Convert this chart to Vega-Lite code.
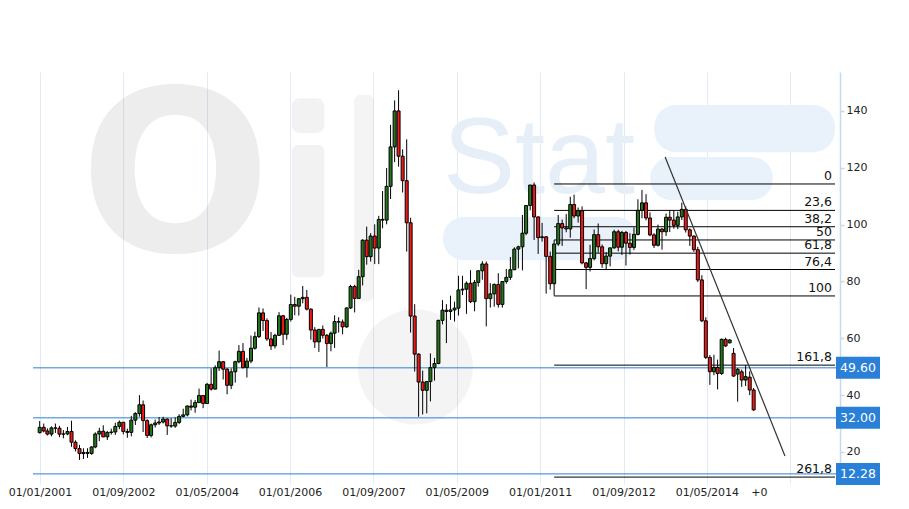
{
  "$schema": "https://vega.github.io/schema/vega-lite/v6.json",
  "width": 807,
  "height": 409,
  "autosize": {"type": "none"},
  "padding": {"left": 33, "top": 72, "right": 69, "bottom": 28},
  "background": "#ffffff",
  "config": {"view": {"stroke": null}, "font": "DejaVu Sans"},
  "datasets": {
    "candles": [
      {"d":"2001-01-01","o":26.80,"h":30.9,"l":26.5,"c":28.66},
      {"d":"2001-02-01","o":28.66,"h":30.0,"l":26.9,"c":27.39},
      {"d":"2001-03-01","o":27.39,"h":28.3,"l":25.8,"c":26.29},
      {"d":"2001-04-01","o":26.29,"h":29.0,"l":25.5,"c":28.46},
      {"d":"2001-05-01","o":28.46,"h":30.0,"l":26.7,"c":28.37},
      {"d":"2001-06-01","o":28.37,"h":29.2,"l":25.2,"c":26.25},
      {"d":"2001-07-01","o":26.25,"h":27.7,"l":24.8,"c":26.35},
      {"d":"2001-08-01","o":26.35,"h":28.8,"l":25.9,"c":27.20},
      {"d":"2001-09-01","o":27.20,"h":31.0,"l":21.8,"c":23.43},
      {"d":"2001-10-01","o":23.43,"h":24.1,"l":20.2,"c":21.18},
      {"d":"2001-11-01","o":21.18,"h":22.5,"l":17.2,"c":19.44},
      {"d":"2001-12-01","o":19.44,"h":21.3,"l":17.5,"c":19.84},
      {"d":"2002-01-01","o":19.84,"h":21.3,"l":17.9,"c":19.48},
      {"d":"2002-02-01","o":19.48,"h":22.0,"l":19.0,"c":21.74},
      {"d":"2002-03-01","o":21.74,"h":26.9,"l":21.3,"c":26.31},
      {"d":"2002-04-01","o":26.31,"h":28.5,"l":23.8,"c":27.29},
      {"d":"2002-05-01","o":27.29,"h":29.4,"l":25.2,"c":25.31},
      {"d":"2002-06-01","o":25.31,"h":27.4,"l":24.2,"c":26.86},
      {"d":"2002-07-01","o":26.86,"h":28.2,"l":26.1,"c":27.02},
      {"d":"2002-08-01","o":27.02,"h":30.3,"l":26.0,"c":28.98},
      {"d":"2002-09-01","o":28.98,"h":31.1,"l":28.0,"c":30.45},
      {"d":"2002-10-01","o":30.45,"h":30.5,"l":26.2,"c":27.22},
      {"d":"2002-11-01","o":27.22,"h":28.2,"l":25.0,"c":26.89},
      {"d":"2002-12-01","o":26.89,"h":32.7,"l":25.5,"c":31.20},
      {"d":"2003-01-01","o":31.20,"h":34.0,"l":29.5,"c":33.51},
      {"d":"2003-02-01","o":33.51,"h":39.99,"l":32.4,"c":36.60},
      {"d":"2003-03-01","o":36.60,"h":38.1,"l":27.0,"c":31.04},
      {"d":"2003-04-01","o":31.04,"h":31.5,"l":24.9,"c":25.80},
      {"d":"2003-05-01","o":25.80,"h":30.0,"l":25.1,"c":29.56},
      {"d":"2003-06-01","o":29.56,"h":31.4,"l":28.6,"c":30.19},
      {"d":"2003-07-01","o":30.19,"h":32.3,"l":29.5,"c":30.54},
      {"d":"2003-08-01","o":30.54,"h":32.4,"l":30.0,"c":31.57},
      {"d":"2003-09-01","o":31.57,"h":31.8,"l":26.0,"c":29.20},
      {"d":"2003-10-01","o":29.20,"h":31.9,"l":28.5,"c":29.11},
      {"d":"2003-11-01","o":29.11,"h":32.2,"l":28.5,"c":30.41},
      {"d":"2003-12-01","o":30.41,"h":33.3,"l":29.8,"c":32.52},
      {"d":"2004-01-01","o":32.52,"h":35.2,"l":32.2,"c":33.05},
      {"d":"2004-02-01","o":33.05,"h":36.4,"l":32.5,"c":36.16},
      {"d":"2004-03-01","o":36.16,"h":38.4,"l":34.6,"c":35.76},
      {"d":"2004-04-01","o":35.76,"h":38.3,"l":33.8,"c":37.38},
      {"d":"2004-05-01","o":37.38,"h":42.3,"l":37.2,"c":39.88},
      {"d":"2004-06-01","o":39.88,"h":40.0,"l":35.4,"c":37.05},
      {"d":"2004-07-01","o":37.05,"h":44.3,"l":37.0,"c":43.80},
      {"d":"2004-08-01","o":43.80,"h":49.4,"l":41.6,"c":42.12},
      {"d":"2004-09-01","o":42.12,"h":50.5,"l":42.0,"c":49.64},
      {"d":"2004-10-01","o":49.64,"h":55.67,"l":48.5,"c":51.76},
      {"d":"2004-11-01","o":51.76,"h":52.0,"l":45.5,"c":49.13},
      {"d":"2004-12-01","o":49.13,"h":49.5,"l":40.3,"c":43.45},
      {"d":"2005-01-01","o":43.45,"h":49.4,"l":42.1,"c":48.20},
      {"d":"2005-02-01","o":48.20,"h":52.1,"l":44.4,"c":51.75},
      {"d":"2005-03-01","o":51.75,"h":57.6,"l":51.2,"c":55.40},
      {"d":"2005-04-01","o":55.40,"h":58.3,"l":49.3,"c":49.72},
      {"d":"2005-05-01","o":49.72,"h":53.1,"l":46.2,"c":51.97},
      {"d":"2005-06-01","o":51.97,"h":60.95,"l":51.2,"c":56.50},
      {"d":"2005-07-01","o":56.50,"h":62.3,"l":56.0,"c":60.57},
      {"d":"2005-08-01","o":60.57,"h":70.85,"l":60.1,"c":68.94},
      {"d":"2005-09-01","o":68.94,"h":70.5,"l":62.6,"c":66.24},
      {"d":"2005-10-01","o":66.24,"h":67.0,"l":59.1,"c":59.76},
      {"d":"2005-11-01","o":59.76,"h":62.2,"l":55.9,"c":57.32},
      {"d":"2005-12-01","o":57.32,"h":61.6,"l":56.4,"c":61.04},
      {"d":"2006-01-01","o":61.04,"h":69.2,"l":60.8,"c":67.92},
      {"d":"2006-02-01","o":67.92,"h":68.2,"l":57.6,"c":61.41},
      {"d":"2006-03-01","o":61.41,"h":67.2,"l":59.5,"c":66.63},
      {"d":"2006-04-01","o":66.63,"h":75.35,"l":65.9,"c":71.88},
      {"d":"2006-05-01","o":71.88,"h":74.6,"l":68.1,"c":71.29},
      {"d":"2006-06-01","o":71.29,"h":74.1,"l":68.0,"c":73.93},
      {"d":"2006-07-01","o":73.93,"h":78.4,"l":72.3,"c":74.40},
      {"d":"2006-08-01","o":74.40,"h":77.0,"l":69.8,"c":70.26},
      {"d":"2006-09-01","o":70.26,"h":70.5,"l":59.5,"c":62.91},
      {"d":"2006-10-01","o":62.91,"h":63.9,"l":56.6,"c":58.73},
      {"d":"2006-11-01","o":58.73,"h":63.3,"l":55.2,"c":63.13},
      {"d":"2006-12-01","o":63.13,"h":64.5,"l":59.9,"c":61.05},
      {"d":"2007-01-01","o":61.05,"h":61.5,"l":49.9,"c":58.14},
      {"d":"2007-02-01","o":58.14,"h":62.4,"l":55.4,"c":61.79},
      {"d":"2007-03-01","o":61.79,"h":68.1,"l":56.6,"c":65.87},
      {"d":"2007-04-01","o":65.87,"h":67.4,"l":62.0,"c":65.71},
      {"d":"2007-05-01","o":65.71,"h":66.6,"l":61.4,"c":64.01},
      {"d":"2007-06-01","o":64.01,"h":70.8,"l":63.7,"c":70.68},
      {"d":"2007-07-01","o":70.68,"h":78.8,"l":70.3,"c":78.21},
      {"d":"2007-08-01","o":78.21,"h":78.8,"l":69.1,"c":74.04},
      {"d":"2007-09-01","o":74.04,"h":84.1,"l":73.9,"c":81.66},
      {"d":"2007-10-01","o":81.66,"h":94.8,"l":78.6,"c":94.53},
      {"d":"2007-11-01","o":94.53,"h":99.3,"l":85.9,"c":88.71},
      {"d":"2007-12-01","o":88.71,"h":97.0,"l":87.0,"c":95.98},
      {"d":"2008-01-01","o":95.98,"h":100.1,"l":86.1,"c":91.75},
      {"d":"2008-02-01","o":91.75,"h":103.1,"l":86.1,"c":101.84},
      {"d":"2008-03-01","o":101.84,"h":111.8,"l":98.7,"c":101.58},
      {"d":"2008-04-01","o":101.58,"h":119.9,"l":100.1,"c":113.46},
      {"d":"2008-05-01","o":113.46,"h":135.1,"l":109.0,"c":127.35},
      {"d":"2008-06-01","o":127.35,"h":143.7,"l":122.0,"c":140.00},
      {"d":"2008-07-01","o":140.00,"h":147.27,"l":120.4,"c":124.08},
      {"d":"2008-08-01","o":124.08,"h":126.5,"l":111.3,"c":115.46},
      {"d":"2008-09-01","o":115.46,"h":130.0,"l":90.5,"c":100.64},
      {"d":"2008-10-01","o":100.64,"h":102.4,"l":62.0,"c":67.81},
      {"d":"2008-11-01","o":67.81,"h":72.0,"l":48.3,"c":54.43},
      {"d":"2008-12-01","o":54.43,"h":54.7,"l":32.4,"c":44.60},
      {"d":"2009-01-01","o":44.60,"h":48.6,"l":33.2,"c":41.68},
      {"d":"2009-02-01","o":41.68,"h":43.5,"l":33.6,"c":44.76},
      {"d":"2009-03-01","o":44.76,"h":54.7,"l":37.8,"c":49.66},
      {"d":"2009-04-01","o":49.66,"h":53.1,"l":45.1,"c":51.12},
      {"d":"2009-05-01","o":51.12,"h":66.5,"l":50.9,"c":66.31},
      {"d":"2009-06-01","o":66.31,"h":73.4,"l":64.9,"c":69.89},
      {"d":"2009-07-01","o":69.89,"h":72.0,"l":58.3,"c":69.45},
      {"d":"2009-08-01","o":69.45,"h":75.0,"l":66.5,"c":69.96},
      {"d":"2009-09-01","o":69.96,"h":72.9,"l":65.9,"c":70.61},
      {"d":"2009-10-01","o":70.61,"h":82.0,"l":68.0,"c":77.00},
      {"d":"2009-11-01","o":77.00,"h":82.0,"l":75.2,"c":77.28},
      {"d":"2009-12-01","o":77.28,"h":80.0,"l":68.6,"c":79.36},
      {"d":"2010-01-01","o":79.36,"h":83.95,"l":72.4,"c":72.89},
      {"d":"2010-02-01","o":72.89,"h":80.5,"l":69.5,"c":79.66},
      {"d":"2010-03-01","o":79.66,"h":83.8,"l":78.2,"c":83.76},
      {"d":"2010-04-01","o":83.76,"h":87.15,"l":80.6,"c":86.15},
      {"d":"2010-05-01","o":86.15,"h":87.0,"l":64.2,"c":73.97},
      {"d":"2010-06-01","o":73.97,"h":79.4,"l":70.8,"c":75.63},
      {"d":"2010-07-01","o":75.63,"h":79.3,"l":71.1,"c":78.95},
      {"d":"2010-08-01","o":78.95,"h":82.9,"l":70.8,"c":71.92},
      {"d":"2010-09-01","o":71.92,"h":80.0,"l":70.8,"c":79.97},
      {"d":"2010-10-01","o":79.97,"h":84.4,"l":79.2,"c":81.43},
      {"d":"2010-11-01","o":81.43,"h":88.6,"l":80.5,"c":84.11},
      {"d":"2010-12-01","o":84.11,"h":92.0,"l":84.0,"c":91.38},
      {"d":"2011-01-01","o":91.38,"h":92.6,"l":84.6,"c":92.19},
      {"d":"2011-02-01","o":92.19,"h":103.4,"l":83.9,"c":96.97},
      {"d":"2011-03-01","o":96.97,"h":106.9,"l":96.3,"c":106.72},
      {"d":"2011-04-01","o":106.72,"h":113.9,"l":105.0,"c":113.93},
      {"d":"2011-05-01","o":113.93,"h":114.83,"l":94.6,"c":102.70},
      {"d":"2011-06-01","o":102.70,"h":102.9,"l":89.7,"c":95.42},
      {"d":"2011-07-01","o":95.42,"h":100.6,"l":94.0,"c":95.70},
      {"d":"2011-08-01","o":95.70,"h":95.9,"l":75.7,"c":88.81},
      {"d":"2011-09-01","o":88.81,"h":90.5,"l":77.1,"c":79.20},
      {"d":"2011-10-01","o":79.20,"h":94.6,"l":74.95,"c":93.19},
      {"d":"2011-11-01","o":93.19,"h":103.4,"l":92.5,"c":100.36},
      {"d":"2011-12-01","o":100.36,"h":101.8,"l":92.5,"c":98.83},
      {"d":"2012-01-01","o":98.83,"h":103.7,"l":97.3,"c":98.48},
      {"d":"2012-02-01","o":98.48,"h":109.8,"l":95.4,"c":107.07},
      {"d":"2012-03-01","o":107.07,"h":110.55,"l":102.2,"c":103.02},
      {"d":"2012-04-01","o":103.02,"h":106.0,"l":100.7,"c":104.87},
      {"d":"2012-05-01","o":104.87,"h":106.4,"l":86.0,"c":86.53},
      {"d":"2012-06-01","o":86.53,"h":86.9,"l":77.3,"c":84.96},
      {"d":"2012-07-01","o":84.96,"h":92.9,"l":83.5,"c":88.06},
      {"d":"2012-08-01","o":88.06,"h":98.3,"l":87.4,"c":96.47},
      {"d":"2012-09-01","o":96.47,"h":100.4,"l":90.1,"c":92.19},
      {"d":"2012-10-01","o":92.19,"h":93.0,"l":84.8,"c":86.24},
      {"d":"2012-11-01","o":86.24,"h":90.3,"l":84.1,"c":88.91},
      {"d":"2012-12-01","o":88.91,"h":91.5,"l":85.3,"c":91.82},
      {"d":"2013-01-01","o":91.82,"h":98.2,"l":91.5,"c":97.49},
      {"d":"2013-02-01","o":97.49,"h":98.2,"l":90.6,"c":92.05},
      {"d":"2013-03-01","o":92.05,"h":97.8,"l":89.3,"c":97.23},
      {"d":"2013-04-01","o":97.23,"h":97.8,"l":85.6,"c":93.46},
      {"d":"2013-05-01","o":93.46,"h":97.0,"l":89.5,"c":91.97},
      {"d":"2013-06-01","o":91.97,"h":99.0,"l":91.1,"c":96.56},
      {"d":"2013-07-01","o":96.56,"h":108.9,"l":96.2,"c":105.03},
      {"d":"2013-08-01","o":105.03,"h":112.2,"l":102.2,"c":107.65},
      {"d":"2013-09-01","o":107.65,"h":110.7,"l":101.5,"c":102.33},
      {"d":"2013-10-01","o":102.33,"h":104.3,"l":95.9,"c":96.38},
      {"d":"2013-11-01","o":96.38,"h":97.0,"l":91.8,"c":92.72},
      {"d":"2013-12-01","o":92.72,"h":100.0,"l":92.3,"c":98.42},
      {"d":"2014-01-01","o":98.42,"h":98.8,"l":91.2,"c":97.49},
      {"d":"2014-02-01","o":97.49,"h":103.9,"l":96.0,"c":102.59},
      {"d":"2014-03-01","o":102.59,"h":105.2,"l":97.4,"c":101.58},
      {"d":"2014-04-01","o":101.58,"h":104.99,"l":98.6,"c":99.74},
      {"d":"2014-05-01","o":99.74,"h":104.5,"l":98.4,"c":102.71},
      {"d":"2014-06-01","o":102.71,"h":107.7,"l":101.6,"c":105.37},
      {"d":"2014-07-01","o":105.37,"h":106.4,"l":97.2,"c":98.17},
      {"d":"2014-08-01","o":98.17,"h":98.7,"l":92.5,"c":95.96},
      {"d":"2014-09-01","o":95.96,"h":96.2,"l":90.4,"c":91.16},
      {"d":"2014-10-01","o":91.16,"h":92.2,"l":79.8,"c":80.54},
      {"d":"2014-11-01","o":80.54,"h":82.2,"l":65.7,"c":66.15},
      {"d":"2014-12-01","o":66.15,"h":67.4,"l":52.7,"c":53.27},
      {"d":"2015-01-01","o":53.27,"h":54.1,"l":43.6,"c":48.24},
      {"d":"2015-02-01","o":48.24,"h":54.2,"l":47.0,"c":49.76},
      {"d":"2015-03-01","o":49.76,"h":52.5,"l":42.0,"c":47.60},
      {"d":"2015-04-01","o":47.60,"h":59.9,"l":47.1,"c":59.63},
      {"d":"2015-05-01","o":59.60,"h":60.2,"l":57.0,"c":57.30},
      {"d":"2015-06-01","o":58.40,"h":59.7,"l":58.2,"c":59.40},
      {"d":"2015-07-01","o":54.70,"h":56.6,"l":46.5,"c":46.70},
      {"d":"2015-08-01","o":47.40,"h":49.5,"l":37.7,"c":49.10},
      {"d":"2015-09-01","o":48.20,"h":49.0,"l":42.9,"c":45.30},
      {"d":"2015-10-01","o":45.30,"h":50.6,"l":43.2,"c":46.50},
      {"d":"2015-11-01","o":46.30,"h":48.4,"l":40.0,"c":41.80},
      {"d":"2015-12-01","o":41.80,"h":42.5,"l":34.5,"c":34.80}
    ],
    "fib": [
      {"lvl":"0","p":114.3},
      {"lvl":"23,6","p":105.0},
      {"lvl":"38,2","p":99.25},
      {"lvl":"50","p":94.6},
      {"lvl":"61,8","p":89.95},
      {"lvl":"76,4","p":84.2},
      {"lvl":"100","p":74.9},
      {"lvl":"161,8","p":50.55},
      {"lvl":"261,8","p":11.15}
    ],
    "levels": [
      {"v":49.6,"t":"49.60"},
      {"v":32.0,"t":"32.00"},
      {"v":12.28,"t":"12.28"}
    ],
    "trend": [
      {"d":"2014-01-24T17:00:00Z","p":123.8},
      {"d":"2016-07-26T17:00:00Z","p":18.6}
    ]
  },
  "layer": [
    {
      "data": {"values": [{}]},
      "mark": {"type": "text", "text": "O", "font": "DejaVu Sans", "fontWeight": "bold", "fontSize": 225, "align": "center", "baseline": "alphabetic", "color": "#000000", "opacity": 0.065},
      "encoding": {
        "x": {
          "datum": 1067688755000, "type": "temporal",
          "scale": {"type": "utc", "domain": [977200509000, 1502553131000]},
          "axis": {
            "title": null,
            "values": [978502498000, 1033452950000, 1088403403000, 1143353855000, 1198304307000, 1253254759000, 1308205211000, 1363155663000, 1418106115000, 1473056567000, 1452426549000],
            "labelExpr": "abs(time(datum.value) - 1452426549000) < 10000000 ? '+0' : ['01/01/2001','01/09/2002','01/05/2004','01/01/2006','01/09/2007','01/05/2009','01/01/2011','01/09/2012','01/05/2014',''][round((time(datum.value) - 978502498000) / 54950452000)]",
            "grid": true,
            "gridColor": "#e1ebf5",
            "gridWidth": 1,
            "gridOpacity": {"condition": {"test": "abs(time(datum.value) - 1452426549000) < 10000000", "value": 0}, "value": 1},
            "domain": false,
            "ticks": true,
            "tickColor": "#e1ebf5",
            "tickSize": 3,
            "tickOpacity": {"condition": {"test": "abs(time(datum.value) - 1452426549000) < 10000000", "value": 0}, "value": 1},
            "labelColor": "#222222",
            "labelFont": "DejaVu Sans",
            "labelFontSize": 11,
            "labelPadding": 2,
            "labelOverlap": false,
            "labelFlush": false,
            "labelBound": false
          }
        },
        "y": {
          "datum": 90.7, "type": "quantitative",
          "scale": {"domain": [9.78, 153.7], "nice": false, "zero": false},
          "axis": {
            "title": null,
            "orient": "right",
            "values": [20, 40, 60, 80, 100, 120, 140],
            "grid": false,
            "domainColor": "#c6daee",
            "domainWidth": 1.5,
            "tickColor": "#c6daee",
            "tickSize": 4,
            "tickWidth": 1.5,
            "labelColor": "#222222",
            "labelFont": "DejaVu Sans",
            "labelFontSize": 11,
            "labelPadding": 2
          }
        }
      }
    },
    {
      "data": {"values": [{}]},
      "mark": {"type": "rect", "color": "#000000", "opacity": 0.05, "cornerRadius": 8},
      "encoding": {
        "x": {"datum": 1144506115000, "type": "temporal"},
        "x2": {"datum": 1165988936000},
        "y": {"datum": 144.5, "type": "quantitative"},
        "y2": {"datum": 132.2}
      }
    },
    {
      "data": {"values": [{}]},
      "mark": {"type": "rect", "color": "#000000", "opacity": 0.05, "cornerRadius": 6},
      "encoding": {
        "x": {"datum": 1144506115000, "type": "temporal"},
        "x2": {"datum": 1165988936000},
        "y": {"datum": 128.0, "type": "quantitative"},
        "y2": {"datum": 81.5}
      }
    },
    {
      "data": {"values": [{}]},
      "mark": {"type": "rect", "color": "#000000", "opacity": 0.045, "cornerRadius": 6},
      "encoding": {
        "x": {"datum": 1185518773000, "type": "temporal"},
        "x2": {"datum": 1198538665000},
        "y": {"datum": 145.6, "type": "quantitative"},
        "y2": {"datum": 73.0}
      }
    },
    {
      "data": {"values": [{}]},
      "mark": {"type": "point", "shape": "circle", "filled": true, "color": "#000000", "opacity": 0.045, "size": 13273, "strokeWidth": 0},
      "encoding": {
        "x": {"datum": 1225880437000, "type": "temporal"},
        "y": {"datum": 49.9, "type": "quantitative"}
      }
    },
    {
      "data": {"values": [{}]},
      "mark": {"type": "rect", "color": "#e9f2fa", "cornerRadius": 22},
      "encoding": {
        "x": {"datum": 1383421124000, "type": "temporal"},
        "x2": {"datum": 1502553131000},
        "y": {"datum": 142.1, "type": "quantitative"},
        "y2": {"datum": 125.5}
      }
    },
    {
      "data": {"values": [{}]},
      "mark": {"type": "rect", "color": "#e9f2fa", "cornerRadius": 21},
      "encoding": {
        "x": {"datum": 1380817146000, "type": "temporal"},
        "x2": {"datum": 1461540473000},
        "y": {"datum": 123.8, "type": "quantitative"},
        "y2": {"datum": 108.7}
      }
    },
    {
      "data": {"values": [{}]},
      "mark": {"type": "rect", "color": "#e9f2fa", "cornerRadius": 21},
      "encoding": {
        "x": {"datum": 1244108285000, "type": "temporal"},
        "x2": {"datum": 1372354216000},
        "y": {"datum": 102.7, "type": "quantitative"},
        "y2": {"datum": 87.5}
      }
    },
    {
      "data": {"values": [{}]},
      "mark": {"type": "text", "text": "Stat", "font": "Liberation Sans", "fontSize": 108, "align": "left", "baseline": "alphabetic", "color": "#e6eff8"},
      "encoding": {
        "x": {"datum": 1244108285000, "type": "temporal"},
        "y": {"datum": 111.1, "type": "quantitative"}
      }
    },
    {
      "data": {"name": "levels"},
      "mark": {"type": "rule", "color": "#2a80d6", "strokeWidth": 1},
      "encoding": {"y": {"field": "v", "type": "quantitative"}}
    },
    {
      "data": {"name": "fib"},
      "mark": {"type": "rule", "color": "#000000", "strokeWidth": 1},
      "encoding": {
        "x": {"datum": 1317427200000, "type": "temporal"},
        "x2": {"datum": 1502553131000},
        "y": {"field": "p", "type": "quantitative"}
      }
    },
    {
      "data": {"name": "candles"},
      "mark": {"type": "rule", "color": "#000000", "strokeWidth": 1},
      "encoding": {
        "x": {"field": "d", "type": "temporal"},
        "y": {"field": "l", "type": "quantitative"},
        "y2": {"field": "h"}
      }
    },
    {
      "data": {"name": "candles"},
      "mark": {"type": "bar", "size": 3, "stroke": "#000000", "strokeWidth": 1},
      "encoding": {
        "x": {"field": "d", "type": "temporal"},
        "y": {"field": "o", "type": "quantitative"},
        "y2": {"field": "c"},
        "fill": {"condition": {"test": "datum.c >= datum.o", "value": "#24751c"}, "value": "#f01818"}
      }
    },
    {
      "data": {"name": "trend"},
      "mark": {"type": "line", "color": "#333333", "strokeWidth": 1.2},
      "encoding": {
        "x": {"field": "d", "type": "temporal"},
        "y": {"field": "p", "type": "quantitative"}
      }
    },
    {
      "data": {"name": "fib"},
      "mark": {"type": "text", "align": "right", "baseline": "alphabetic", "dx": -3, "dy": -4, "fontSize": 12.5, "font": "DejaVu Sans", "color": "#111111"},
      "encoding": {
        "x": {"datum": 1502553131000, "type": "temporal"},
        "y": {"field": "p", "type": "quantitative"},
        "text": {"field": "lvl"}
      }
    },
    {
      "data": {"name": "levels"},
      "mark": {"type": "point", "shape": "M-1,-0.5H1V0.5H-1Z", "size": 1936, "filled": true, "opacity": 1, "color": "#2a80d6", "strokeWidth": 0, "xOffset": 23},
      "encoding": {
        "x": {"datum": 1502553131000, "type": "temporal"},
        "y": {"field": "v", "type": "quantitative"}
      }
    },
    {
      "data": {"name": "levels"},
      "mark": {"type": "text", "align": "center", "baseline": "middle", "dx": 23, "fontSize": 12.5, "font": "DejaVu Sans", "color": "#ffffff"},
      "encoding": {
        "x": {"datum": 1502553131000, "type": "temporal"},
        "y": {"field": "v", "type": "quantitative"},
        "text": {"field": "t"}
      }
    }
  ]
}
